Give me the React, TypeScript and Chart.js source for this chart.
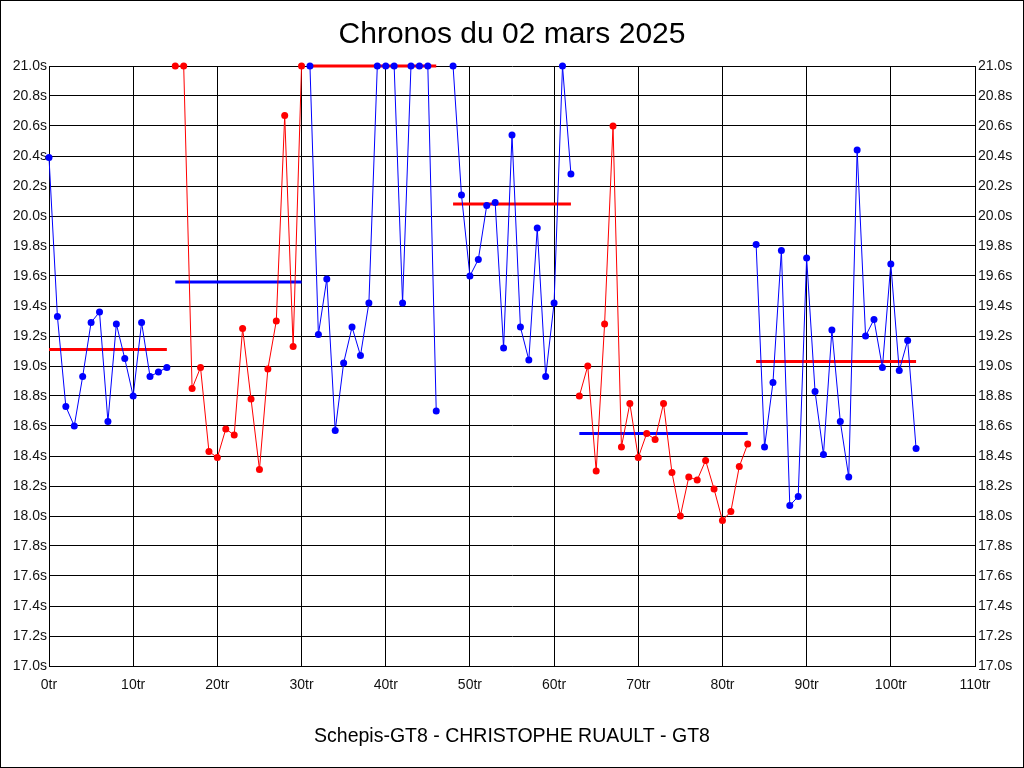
import React, { useEffect, useRef } from "react";
import { Chart, registerables } from "chart.js";

Chart.register(...registerables);

const TITLE = "Chronos du 02 mars 2025";
const FOOTER = "Schepis-GT8 - CHRISTOPHE RUAULT - GT8";

const BLUE = "#0000ff";
const RED = "#ff0000";

// Stint 1 (blue)
const laps1 = [0, 1, 2, 3, 4, 5, 6, 7, 8, 9, 10, 11, 12, 13, 14];
const times1 = [20.39, 19.33, 18.73, 18.6, 18.93, 19.29, 19.36, 18.63, 19.28, 19.05, 18.8, 19.29, 18.93, 18.96, 18.99];
const avg1 = 19.11;

// Stint 2 (red)
const laps2 = [15, 16, 17, 18, 19, 20, 21, 22, 23, 24, 25, 26, 27, 28, 29, 30];
const times2 = [21.0, 21.0, 18.85, 18.99, 18.43, 18.39, 18.58, 18.54, 19.25, 18.78, 18.31, 18.98, 19.3, 20.67, 19.13, 21.0];
const avg2 = 19.56;

// Stint 3 (blue)
const laps3 = [31, 32, 33, 34, 35, 36, 37, 38, 39, 40, 41, 42, 43, 44, 45, 46];
const times3 = [21.0, 19.21, 19.58, 18.57, 19.02, 19.26, 19.07, 19.42, 21.0, 21.0, 21.0, 19.42, 21.0, 21.0, 21.0, 18.7];
const avg3 = 21.0;

// Stint 4 (blue)
const laps4 = [48, 49, 50, 51, 52, 53, 54, 55, 56, 57, 58, 59, 60, 61, 62];
const times4 = [21.0, 20.14, 19.6, 19.71, 20.07, 20.09, 19.12, 20.54, 19.26, 19.04, 19.92, 18.93, 19.42, 21.0, 20.28];
const avg4 = 20.08;

// Stint 5 (red)
const laps5 = [63, 64, 65, 66, 67, 68, 69, 70, 71, 72, 73, 74, 75, 76, 77, 78, 79, 80, 81, 82, 83];
const times5 = [18.8, 19.0, 18.3, 19.28, 20.6, 18.46, 18.75, 18.39, 18.55, 18.51, 18.75, 18.29, 18.0, 18.26, 18.24, 18.37, 18.18, 17.97, 18.03, 18.33, 18.48];
const avg5 = 18.55;

// Stint 6 (blue)
const laps6 = [84, 85, 86, 87, 88, 89, 90, 91, 92, 93, 94, 95, 96, 97, 98, 99, 100, 101, 102, 103];
const times6 = [19.81, 18.46, 18.89, 19.77, 18.07, 18.13, 19.72, 18.83, 18.41, 19.24, 18.63, 18.26, 20.44, 19.2, 19.31, 18.99, 19.68, 18.97, 19.17, 18.45];
const avg6 = 19.03;

const X_MIN = 0;
const X_MAX = 110;
const X_STEP = 10;
const Y_MIN = 17.0;
const Y_MAX = 21.0;
const Y_STEP = 0.2;

const FONT = "'Liberation Sans', Arial, sans-serif";

function stintDataset(laps: number[], times: number[], color: string) {
  return {
    type: "line" as const,
    data: laps.map((l, i) => ({ x: l, y: times[i] })),
    borderColor: color,
    backgroundColor: color,
    borderWidth: 1,
    pointRadius: 3.5,
    pointBorderWidth: 0,
    pointBackgroundColor: color,
    tension: 0,
    clip: false as const,
    order: 0,
  };
}

function avgDataset(laps: number[], avg: number, color: string) {
  return {
    type: "line" as const,
    data: [
      { x: laps[0], y: avg },
      { x: laps[laps.length - 1], y: avg },
    ],
    borderColor: color,
    backgroundColor: color,
    borderWidth: 3,
    pointRadius: 0,
    tension: 0,
    clip: false as const,
    order: 5,
  };
}

const framePlugin = {
  id: "frameAndTexts",
  beforeDraw(chart: any) {
    const ctx = chart.ctx;
    ctx.save();
    ctx.fillStyle = "#ffffff";
    ctx.fillRect(0, 0, chart.width, chart.height);
    ctx.restore();
  },
  afterDraw(chart: any) {
    const ctx = chart.ctx;
    ctx.save();
    ctx.strokeStyle = "#000";
    ctx.lineWidth = 1;
    ctx.strokeRect(0.5, 0.5, chart.width - 1, chart.height - 1);
    ctx.fillStyle = "#000";
    ctx.textAlign = "center";
    ctx.textBaseline = "middle";
    ctx.font = `30px ${FONT}`;
    ctx.fillText(TITLE, chart.width / 2, 35);
    ctx.font = `19.5px ${FONT}`;
    ctx.fillText(FOOTER, chart.width / 2, 737);
    ctx.restore();
  },
};

export default function App() {
  const ref = useRef<HTMLCanvasElement | null>(null);

  useEffect(() => {
    if (!ref.current) return;
    const chart = new Chart(ref.current, {
      type: "line",
      data: {
        datasets: [
          stintDataset(laps1, times1, BLUE),
          stintDataset(laps2, times2, RED),
          stintDataset(laps3, times3, BLUE),
          stintDataset(laps4, times4, BLUE),
          stintDataset(laps5, times5, RED),
          stintDataset(laps6, times6, BLUE),
          avgDataset(laps1, avg1, RED),
          avgDataset(laps2, avg2, BLUE),
          avgDataset(laps3, avg3, RED),
          avgDataset(laps4, avg4, RED),
          avgDataset(laps5, avg5, BLUE),
          avgDataset(laps6, avg6, RED),
        ] as any,
      },
      options: {
        responsive: false,
        animation: false,
        devicePixelRatio: 1,
        layout: { padding: { top: 66, left: 0, right: 0, bottom: 0 } },
        plugins: {
          legend: { display: false },
          title: { display: false },
          tooltip: { enabled: false },
        },
        scales: {
          x: {
            type: "linear",
            min: X_MIN,
            max: X_MAX,
            ticks: {
              stepSize: X_STEP,
              color: "#111",
              font: { family: FONT, size: 14 },
              padding: 11,
              maxRotation: 0,
              callback: (v: any) => `${v}tr`,
            },
            grid: { color: "#000", lineWidth: 1, drawTicks: false },
            border: { display: true, color: "#000", width: 1 },
            afterFit: (s: any) => {
              s.height = 102;
            },
          },
          y: {
            type: "linear",
            position: "left",
            min: Y_MIN,
            max: Y_MAX,
            ticks: {
              stepSize: Y_STEP,
              color: "#111",
              font: { family: FONT, size: 14 },
              padding: 2,
              callback: (v: any) => `${Number(v).toFixed(1)}s`,
            },
            grid: { color: "#000", lineWidth: 1, drawTicks: false },
            border: { display: true, color: "#000", width: 1 },
            afterFit: (s: any) => {
              s.width = 49;
            },
          },
          y2: {
            type: "linear",
            position: "right",
            min: Y_MIN,
            max: Y_MAX,
            ticks: {
              stepSize: Y_STEP,
              color: "#111",
              font: { family: FONT, size: 14 },
              padding: 3,
              callback: (v: any) => `${Number(v).toFixed(1)}s`,
            },
            grid: { display: false, drawTicks: false },
            border: { display: true, color: "#000", width: 1 },
            afterFit: (s: any) => {
              s.width = 49;
            },
          },
        },
      } as any,
      plugins: [framePlugin],
    });
    return () => chart.destroy();
  }, []);

  return (
    <div style={{ position: "absolute", left: 0, top: 0, width: 1024, height: 768 }}>
      <canvas ref={ref} width={1024} height={768} style={{ display: "block" }} />
    </div>
  );
}
